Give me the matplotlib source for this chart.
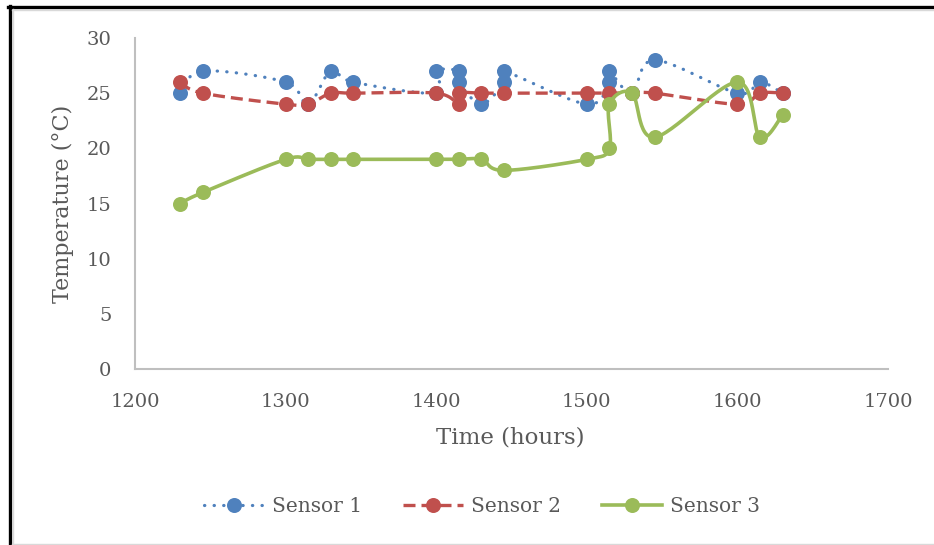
import matplotlib.pyplot as plt
import numpy as np
from matplotlib.lines import Line2D

# data (time in hours, temperature in degC)
time1 = [1230, 1245, 1300, 1315, 1330, 1345, 1400, 1400, 1415, 1415, 1430,
         1445, 1445, 1500, 1515, 1515, 1530, 1545, 1600, 1615, 1630]
sensor1 = [25, 27, 26, 24, 27, 26, 25, 27, 27, 26, 24,
           26, 27, 24, 26, 27, 25, 28, 25, 26, 25]

time2 = [1230, 1245, 1300, 1315, 1330, 1345, 1400, 1415, 1415, 1430,
         1445, 1500, 1515, 1530, 1545, 1600, 1615, 1630]
sensor2 = [26, 25, 24, 24, 25, 25, 25, 24, 25, 25,
           25, 25, 25, 25, 25, 24, 25, 25]

time3 = [1230, 1245, 1300, 1315, 1330, 1345, 1400, 1415, 1430,
         1445, 1500, 1515, 1515, 1530, 1545, 1600, 1615, 1630]
sensor3 = [15, 16, 19, 19, 19, 19, 19, 19, 19,
           18, 19, 20, 24, 25, 21, 26, 21, 23]

x_ticks = [1200, 1300, 1400, 1500, 1600, 1700]
y_ticks = [0, 5, 10, 15, 20, 25, 30]

TEXT = '#595959'
GRID = '#bfbfbf'
plt.rcParams['font.family'] = ['DejaVu Serif']


# Excel style "smoothed line": cubic bezier through the points
def smooth(xs, ys, n=30):
    p = np.column_stack([xs, ys]).astype(float)
    out = [p[0]]
    for i in range(len(p) - 1):
        p0 = p[i - 1] if i > 0 else p[i]
        p1 = p[i]
        p2 = p[i + 1]
        p3 = p[i + 2] if i + 2 < len(p) else p[i + 1]
        c1 = p1 + (p2 - p0) / 6
        c2 = p2 - (p3 - p1) / 6
        t = np.linspace(0, 1, n)[1:, None]
        seg = ((1 - t) ** 3) * p1 + 3 * ((1 - t) ** 2) * t * c1 + 3 * (1 - t) * t ** 2 * c2 + t ** 3 * p2
        out.extend(seg)
    out = np.array(out)
    return out[:, 0], out[:, 1]


fig = plt.figure(figsize=(9.34, 5.45), dpi=100)
ax = fig.add_axes([0.1445, 0.3229, 0.8062, 0.6074])

series = [
    (time1, sensor1, '#4F81BD', dict(linestyle=(0, (0.1, 2.9)), dash_capstyle='round', linewidth=2.3), 'Sensor 1'),
    (time2, sensor2, '#C0504D', dict(linestyle=(0, (3.6, 1.8)), linewidth=2.4), 'Sensor 2'),
    (time3, sensor3, '#9BBB59', dict(linestyle='-', linewidth=2.6), 'Sensor 3'),
]

handles = []
for k, (t, s, c, style, name) in enumerate(series):
    sx, sy = smooth(t, s)
    ax.plot(sx, sy, color=c, zorder=2 + 2 * k, solid_capstyle='round', **style)
    ax.plot(t, s, 'o', color=c, markersize=10.8, markeredgewidth=0, zorder=3 + 2 * k)
    handles.append(Line2D([], [], color=c, marker='o', markersize=10.8,
                          markeredgewidth=0, label=name, **style))

ax.set_xlim(1200, 1700)
ax.set_ylim(0, 30)
ax.set_xticks(x_ticks)
ax.set_yticks(y_ticks)
ax.tick_params(length=0, labelsize=14, labelcolor=TEXT, pad=17)
for side in ['top', 'right']:
    ax.spines[side].set_visible(False)
for side in ['left', 'bottom']:
    ax.spines[side].set_color(GRID)
    ax.spines[side].set_linewidth(1.5)

ax.set_xlabel('Time (hours)', fontsize=16.5, color=TEXT)
ax.set_ylabel('Temperature (°C)', fontsize=16, color=TEXT)
ax.xaxis.set_label_coords(0.499, -0.208)
ax.xaxis.label.set_va('center')
ax.yaxis.set_label_coords(-0.095, 0.5)
ax.yaxis.label.set_va('center')

fig.legend(handles=handles, loc='center', bbox_to_anchor=(0.516, 0.07), ncol=3,
           frameon=False, fontsize=14.5, labelcolor=TEXT, handlelength=3.0,
           handletextpad=0.4, columnspacing=2.0)

# outer frame: black edge top/left plus light grey chart border
fig.add_artist(Line2D([8 / 934, 1], [1 - 7 / 545, 1 - 7 / 545], color='black', linewidth=2.4))
fig.add_artist(Line2D([9.5 / 934, 9.5 / 934], [0, 1 - 6 / 545], color='black', linewidth=2.4))
fig.add_artist(Line2D([12 / 934, 1], [1 - 9.5 / 545, 1 - 9.5 / 545], color='#d9d9d9', linewidth=1))
fig.add_artist(Line2D([12.5 / 934, 12.5 / 934], [1 / 545, 1 - 9 / 545], color='#d9d9d9', linewidth=1))
fig.add_artist(Line2D([12 / 934, 1], [1.5 / 545, 1.5 / 545], color='#d9d9d9', linewidth=1))

fig.savefig('out.png', dpi=100)
